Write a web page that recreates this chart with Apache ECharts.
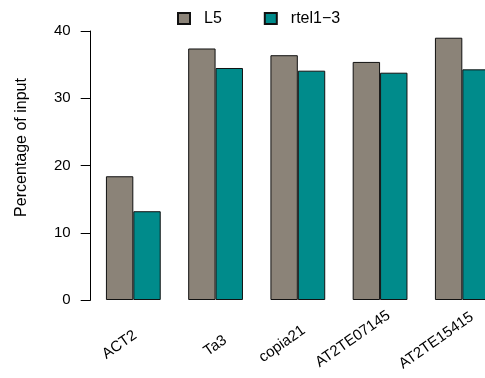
<!DOCTYPE html>
<html>
<head>
<meta charset="utf-8">
<script src="https://cdn.jsdelivr.net/npm/echarts@6/dist/echarts.min.js"></script>
<style>
html,body{margin:0;padding:0;background:#fff;}
#chart{width:485px;height:378px;}
</style>
</head>
<body>
<div id="chart"></div>
<script>
var categories = ['ACT2', 'Ta3', 'copia21', 'AT2TE07145', 'AT2TE15415'];
var seriesNames = ['L5', 'rtel1\u22123'];
var l5Values = [18.4, 37.4, 36.4, 35.4, 39.0];
var rtelValues = [13.2, 34.5, 34.1, 33.8, 34.3];
var yTicks = [0, 10, 20, 30, 40];

// per-label nudges (style only): shift along the text (right padding) and across it (line height)
var labelAlongPad = [6.4, 2.9, 0.3, -10.5, -10.5];
var labelAcrossLH = [25, 42, 21.4, 0, 4];

var FONT = 'Liberation Sans, Arial, Helvetica, sans-serif';
var chart = echarts.init(document.getElementById('chart'), null, {renderer: 'canvas'});

var xData = categories.map(function (c, i) {
  var ts = {padding: [0, labelAlongPad[i], 0, 0]};
  if (labelAcrossLH[i] > 0) {
    ts.verticalAlign = 'top';
    ts.lineHeight = labelAcrossLH[i];
  }
  return {value: c, textStyle: ts};
});

chart.setOption({
  animation: false,
  backgroundColor: '#ffffff',
  textStyle: {fontFamily: FONT},
  legend: {
    data: seriesNames,
    icon: 'rect',
    left: 172,
    top: 5.5,
    itemWidth: 12,
    itemHeight: 11,
    itemGap: 42,
    textStyle: {fontSize: 16, color: '#000', fontFamily: FONT, padding: [0, 0, 0, 9]}
  },
  grid: {left: 92.2, top: 31, width: 411.25, height: 269, containLabel: false, outerBoundsMode: 'none'},
  xAxis: {
    type: 'category',
    data: xData,
    axisLine: {show: false},
    axisTick: {show: false},
    axisLabel: {
      interval: 0,
      rotate: 35,
      margin: 20,
      fontSize: 15,
      color: '#000',
      fontFamily: FONT,
      hideOverlap: false
    }
  },
  yAxis: {
    type: 'value',
    min: yTicks[0],
    max: yTicks[yTicks.length - 1],
    interval: 10,
    offset: 1.5,
    name: 'Percentage of input',
    nameLocation: 'middle',
    nameGap: 61,
    nameTextStyle: {fontSize: 16, color: '#000', fontFamily: FONT, padding: [0, 0, 0, 36]},
    axisLine: {show: true, lineStyle: {color: '#000', width: 1}},
    axisTick: {show: true, length: 10, lineStyle: {color: '#000', width: 1}},
    axisLabel: {margin: 20, fontSize: 15, color: '#000', fontFamily: FONT},
    splitLine: {show: false}
  },
  series: [
    {
      name: seriesNames[0],
      type: 'bar',
      data: l5Values,
      barWidth: 27.4,
      barGap: '0%',
      itemStyle: {color: '#8B8378', borderColor: '#111', borderWidth: 1}
    },
    {
      name: seriesNames[1],
      type: 'bar',
      data: rtelValues,
      barWidth: 27.4,
      barGap: '0%',
      itemStyle: {color: '#008B8B', borderColor: '#111', borderWidth: 1}
    }
  ]
});
</script>
</body>
</html>
